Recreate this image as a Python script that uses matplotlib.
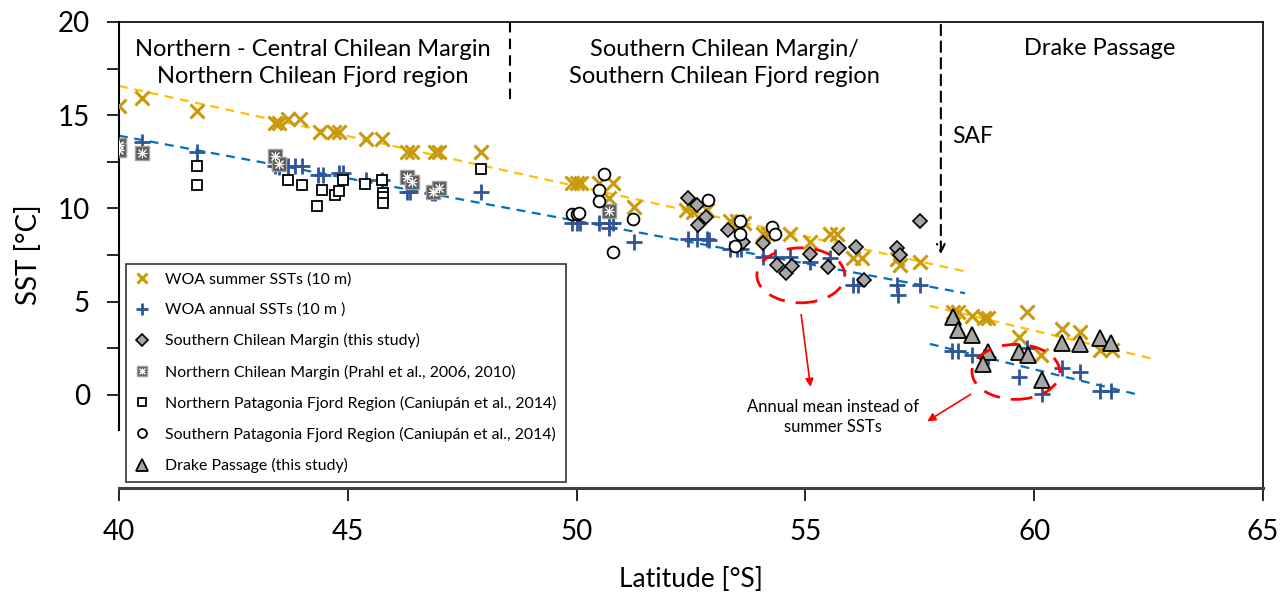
import matplotlib.pyplot as plt
from matplotlib.patches import Ellipse

plt.rcParams['font.family'] = ['Lato', 'DejaVu Sans']

# WOA summer SSTs (10 m)
summer_lat = [40.0, 40.5, 41.7, 43.4, 43.5, 43.7, 43.95, 44.4, 44.7, 44.8, 45.4, 45.75, 46.3, 46.4,
              46.9, 47.0, 47.9, 49.9, 50.0, 50.1, 50.5, 50.8, 50.7, 51.25, 52.4, 52.55, 52.85,
              53.35, 53.5, 53.65, 54.07, 54.18, 54.66, 55.1, 55.54, 55.7, 56.04, 56.24, 57.0,
              57.07, 57.5, 58.23, 58.33, 58.64, 58.9, 59.0, 59.84, 59.67, 60.15, 60.6, 61.0,
              61.44, 61.7]
summer_sst = [15.5, 15.9, 15.2, 14.6, 14.6, 14.8, 14.8, 14.1, 14.1, 14.1, 13.7, 13.7, 13.0, 13.0,
              13.0, 13.0, 13.0, 11.35, 11.35, 11.35, 11.35, 11.35, 10.55, 10.1, 9.9, 9.8, 9.9,
              9.3, 9.3, 9.2, 8.6, 8.6, 8.6, 8.2, 8.6, 8.6, 7.35, 7.35, 7.3, 6.95, 7.1, 4.45, 4.45,
              4.25, 4.1, 4.1, 4.45, 3.1, 2.15, 3.55, 3.35, 2.4, 2.4]

# WOA annual SSTs (10 m)
annual_lat = [40.5, 41.7, 43.4, 43.5, 43.7, 43.85, 44.0, 44.35, 44.45, 44.8, 44.9, 45.4, 45.75,
              46.3, 46.35, 46.85, 46.9, 47.9, 49.9, 50.0, 50.07, 50.5, 50.7, 50.8, 50.7, 51.25,
              52.43, 52.63, 52.85, 52.9, 53.35, 53.5, 53.6, 54.07, 54.33, 54.66, 55.1, 55.54,
              56.04, 56.15, 57.0, 57.02, 57.5, 58.2, 58.33, 58.64, 58.9, 59.0, 59.84, 59.67,
              60.17, 60.6, 61.0, 61.44, 61.68]
annual_sst = [13.55, 13.0, 12.3, 12.2, 12.3, 12.3, 12.3, 11.8, 11.8, 11.9, 11.9, 11.5, 11.5,
              10.9, 10.9, 10.85, 10.85, 10.9, 9.2, 9.2, 9.2, 9.2, 9.2, 9.2, 8.95, 8.2,
              8.35, 8.35, 8.35, 8.3, 7.8, 7.8, 7.8, 7.4, 7.4, 7.4, 7.1, 7.35,
              5.9, 5.9, 5.9, 5.35, 5.9, 2.35, 2.35, 2.15, 2.05, 2.05, 2.5, 0.95,
              0.05, 1.45, 1.2, 0.2, 0.2]

# Southern Chilean Margin (this study)
scm_lat = [52.43, 52.63, 52.83, 52.65, 53.3, 53.63, 54.07, 54.38, 54.58, 54.7, 55.1, 55.5,
           55.74, 56.1, 56.27, 57.0, 57.07, 57.5]
scm_sst = [10.55, 10.2, 9.55, 9.1, 8.85, 8.2, 8.15, 6.95, 6.55, 6.9, 7.55, 6.85,
           7.9, 7.95, 6.15, 7.9, 7.5, 9.35]

# Northern Chilean Margin (Prahl et al., 2006, 2010)
ncm_lat = [40.0, 40.0, 40.5, 43.4, 43.5, 46.3, 46.4, 46.87, 47.0, 50.7]
ncm_sst = [13.4, 13.15, 12.95, 12.8, 12.4, 11.7, 11.4, 10.9, 11.1, 9.85]

# Northern Patagonia Fjord Region (Caniupán et al., 2014)
npf_lat = [41.7, 41.7, 43.7, 44.0, 44.44, 44.33, 44.72, 44.8, 44.9, 45.38, 45.75, 45.77, 45.77,
           45.77, 47.9]
npf_sst = [12.3, 11.25, 11.5, 11.25, 11.0, 10.15, 10.7, 10.95, 11.5, 11.3, 11.5, 10.85, 10.6,
           10.3, 12.1]

# Southern Patagonia Fjord Region (Caniupán et al., 2014)
spf_lat = [49.9, 50.0, 50.05, 50.6, 50.5, 50.5, 51.23, 50.8, 52.87, 53.57, 53.57, 53.46,
           54.27, 54.33]
spf_sst = [9.7, 9.7, 9.75, 11.85, 11.0, 10.4, 9.45, 7.65, 10.45, 9.3, 8.6, 8.0, 9.0, 8.6]

# Drake Passage (this study)
dp_lat = [58.23, 58.33, 58.64, 59.0, 58.88, 59.67, 59.86, 60.17, 60.6, 61.0, 61.44, 61.68]
dp_sst = [4.2, 3.5, 3.2, 2.3, 1.65, 2.3, 2.15, 0.8, 2.8, 2.75, 3.05, 2.8]

# linear trends (start/end latitude and SST)
trend_summer_north = ([40.0, 58.53], [16.57, 6.6])
trend_annual_north = ([40.0, 58.49], [13.9, 5.45])
trend_summer_drake = ([57.72, 62.68], [4.77, 1.88])
trend_annual_drake = ([57.72, 62.2], [2.73, 0.05])

summer_col = '#C99A0E'
annual_col = '#2F5597'

fig = plt.figure(figsize=(12.85, 5.97), dpi=100)
ax = fig.add_axes([119 / 1285, 1 - 488 / 597, 1144 / 1285, 466 / 597])

ax.plot(*trend_summer_north, ls=(0, (4, 3)), color='#FFC000', lw=1.6, zorder=2)
ax.plot(*trend_summer_drake, ls=(0, (4, 3)), color='#FFC000', lw=1.6, zorder=2)
ax.plot(*trend_annual_north, ls=(0, (4, 3)), color='#0070C0', lw=1.6, zorder=2)
ax.plot(*trend_annual_drake, ls=(0, (4, 3)), color='#0070C0', lw=1.6, zorder=2)

h_sum, = ax.plot(summer_lat, summer_sst, 'x', color=summer_col, ms=10, mew=2.2, zorder=3)
h_ann, = ax.plot(annual_lat, annual_sst, '+', color=annual_col, ms=11.5, mew=2, zorder=3)
h_scm, = ax.plot(scm_lat, scm_sst, 'D', mfc='#A6A6A6', mec='black', ms=7.5, mew=1.2, zorder=4)
h_ncm_sq, = ax.plot(ncm_lat, ncm_sst, 's', mfc='#5A5A5A', mec='#A0A0A0', ms=9.5, mew=1, zorder=4)
h_ncm_x, = ax.plot(ncm_lat, ncm_sst, 'x', color='white', ms=6, mew=1, zorder=5)
h_ncm_p, = ax.plot(ncm_lat, ncm_sst, '+', color='white', ms=6.5, mew=0.8, zorder=5)
h_npf, = ax.plot(npf_lat, npf_sst, 's', mfc='white', mec='black', ms=7.5, mew=1.3, zorder=4)
h_spf, = ax.plot(spf_lat, spf_sst, 'o', mfc='white', mec='black', ms=8.5, mew=1.3, zorder=4)
h_dp, = ax.plot(dp_lat, dp_sst, '^', mfc='#A6A6A6', mec='black', ms=11, mew=1.3, zorder=4)

# highlighted stations where annual means replace summer SSTs
for cx, cy in [(54.9, 6.41), (59.6, 1.23)]:
    ax.add_patch(Ellipse((cx, cy), 1.92, 2.95, fill=False, ec='#FF0000', lw=2,
                         ls=(0, (6, 4)), zorder=6))
ax.annotate('', xy=(55.12, 0.27), xytext=(54.9, 4.45),
            arrowprops=dict(arrowstyle='-|>', color='#FF0000', lw=1.2, mutation_scale=12))
ax.annotate('', xy=(57.61, -1.5), xytext=(58.66, 0.1),
            arrowprops=dict(arrowstyle='-|>', color='#FF0000', lw=1.2, mutation_scale=12))
ax.text(55.6, -1.2, 'Annual mean instead of\nsummer SSTs', ha='center', va='center',
        fontsize=12, linespacing=1.3)

# region boundaries
ax.plot([48.55, 48.55], [20, 15.55], ls=(0, (5, 3)), color='black', lw=1.5)
ax.annotate('', xy=(57.96, 7.4), xytext=(57.96, 20),
            arrowprops=dict(arrowstyle='->', ls=(0, (5, 3)), color='black', lw=1.5,
                            mutation_scale=14))
ax.text(58.2, 13.85, 'SAF', ha='left', va='center', fontsize=16.5)

ax.text(44.24, 17.8, 'Northern - Central Chilean Margin\nNorthern Chilean Fjord region',
        ha='center', va='center', fontsize=17, linespacing=1.4)
ax.text(53.24, 17.8, 'Southern Chilean Margin/\nSouthern Chilean Fjord region',
        ha='center', va='center', fontsize=17, linespacing=1.4)
ax.text(61.44, 18.6, 'Drake Passage', ha='center', va='center', fontsize=17)

ax.set_xlim(40, 65)
ax.set_ylim(-5, 20)
ax.set_xticks([40, 45, 50, 55, 60, 65])
ax.set_yticks([0, 5, 10, 15, 20])
ax.set_yticks([2.5, 7.5, 12.5, 17.5], minor=True)
ax.spines['left'].set_bounds(-1.9, 20)
ax.spines['left'].set_linewidth(1.5)
ax.spines['bottom'].set_linewidth(2.2)
ax.spines['bottom'].set_color('#404040')
ax.spines['top'].set_linewidth(1.2)
ax.spines['right'].set_linewidth(1.2)
ax.tick_params(axis='y', which='both', direction='out', length=9, width=1.2, labelsize=20, pad=12)
ax.tick_params(axis='x', direction='out', length=9, width=1.2, labelsize=20, pad=13)

ax.set_xlabel('Latitude [°S]', fontsize=19, labelpad=16)
ax.set_ylabel('SST [°C]', fontsize=20, labelpad=11)

leg = ax.legend([h_sum, h_ann, h_scm, (h_ncm_sq, h_ncm_x, h_ncm_p), h_npf, h_spf, h_dp],
                ['WOA summer SSTs (10 m)', 'WOA annual SSTs (10 m )',
                 'Southern Chilean Margin (this study)',
                 'Northern Chilean Margin (Prahl et al., 2006, 2010)',
                 'Northern Patagonia Fjord Region (Caniupán et al., 2014)',
                 'Southern Patagonia Fjord Region (Caniupán et al., 2014)',
                 'Drake Passage (this study)'],
                loc='lower left', bbox_to_anchor=(0.006, 0.013), borderaxespad=0,
                fontsize=11.4, labelspacing=1.02, handlelength=1.0, handletextpad=0.95,
                borderpad=0.55, frameon=True, fancybox=False, edgecolor='black', markerscale=0.75)
leg.get_frame().set_linewidth(1.2)
leg.set_zorder(7)

fig.savefig('out.png', dpi=100)
